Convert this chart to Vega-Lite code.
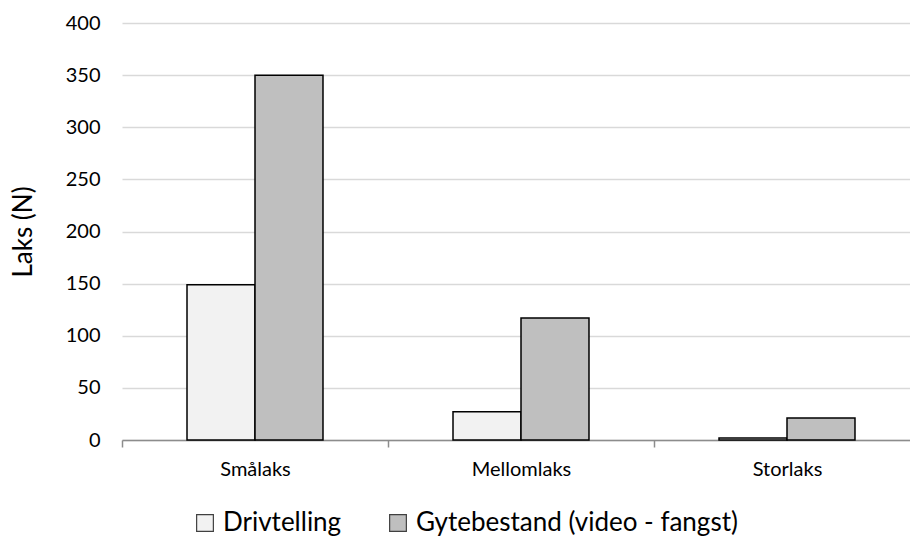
{
  "$schema": "https://vega.github.io/schema/vega-lite/v6.json",
  "width": 798,
  "height": 417,
  "autosize": {"type": "none"},
  "padding": {"left": 122, "top": 23, "right": 0, "bottom": 104},
  "background": "white",
  "data": {
    "values": [
      {"kategori": "Smålaks", "serie": "Drivtelling", "antall": 149},
      {"kategori": "Smålaks", "serie": "Gytebestand (video - fangst)", "antall": 350},
      {"kategori": "Mellomlaks", "serie": "Drivtelling", "antall": 27},
      {"kategori": "Mellomlaks", "serie": "Gytebestand (video - fangst)", "antall": 117},
      {"kategori": "Storlaks", "serie": "Drivtelling", "antall": 2},
      {"kategori": "Storlaks", "serie": "Gytebestand (video - fangst)", "antall": 21}
    ]
  },
  "config": {
    "font": "Lato",
    "view": {"stroke": null}
  },
  "mark": {"type": "bar", "stroke": "#000000", "strokeWidth": 1.5},
  "encoding": {
    "x": {
      "field": "kategori",
      "type": "nominal",
      "sort": ["Smålaks", "Mellomlaks", "Storlaks"],
      "scale": {"paddingInner": 0, "paddingOuter": 0},
      "axis": {
        "title": null,
        "labelAngle": 0,
        "labelFontSize": 20,
        "labelColor": "#000000",
        "labelPadding": 12,
        "domainColor": "#8c8c8c",
        "domainWidth": 1.5,
        "tickColor": "#8c8c8c",
        "tickWidth": 1.5,
        "tickSize": 7,
        "tickBand": "extent",
        "grid": false
      }
    },
    "xOffset": {
      "field": "serie",
      "type": "nominal",
      "sort": ["Drivtelling", "Gytebestand (video - fangst)"],
      "scale": {"paddingInner": 0, "paddingOuter": 0.956}
    },
    "y": {
      "field": "antall",
      "type": "quantitative",
      "scale": {"domain": [0, 400], "nice": false},
      "axis": {
        "title": "Laks (N)",
        "titleFontSize": 26,
        "titleFontWeight": "normal",
        "titleColor": "#000000",
        "titlePadding": 29,
        "values": [0, 50, 100, 150, 200, 250, 300, 350, 400],
        "labelFontSize": 20,
        "labelColor": "#000000",
        "labelPadding": 22,
        "domain": false,
        "ticks": false,
        "gridColor": "#d9d9d9",
        "gridWidth": 1.5
      }
    },
    "fill": {
      "field": "serie",
      "type": "nominal",
      "sort": ["Drivtelling", "Gytebestand (video - fangst)"],
      "scale": {"domain": ["Drivtelling", "Gytebestand (video - fangst)"], "range": ["#f2f2f2", "#bfbfbf"]},
      "legend": {
        "title": null,
        "orient": "none",
        "legendX": 70,
        "legendY": 487,
        "direction": "horizontal",
        "symbolType": "square",
        "symbolSize": 280,
        "symbolStrokeColor": "#404040",
        "symbolStrokeWidth": 1.2,
        "labelFontSize": 26,
        "labelColor": "#000000",
        "labelOffset": 5,
        "columnPadding": 43,
        "labelLimit": 500
      }
    }
  }
}
